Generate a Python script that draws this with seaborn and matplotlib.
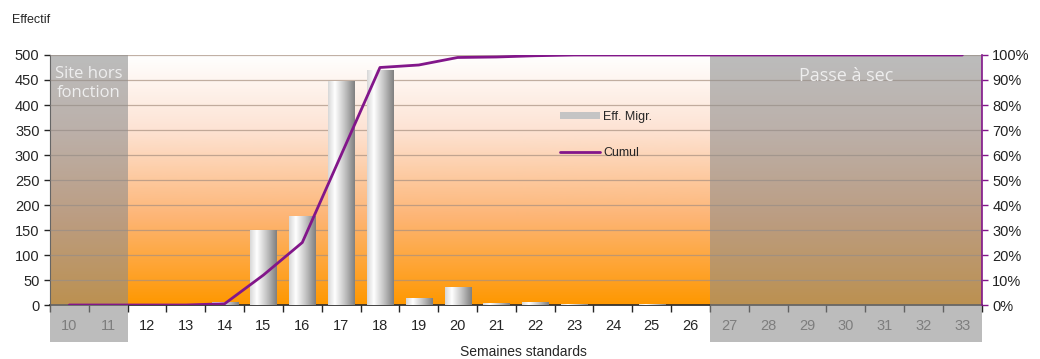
import numpy as np
import pandas as pd
import matplotlib.pyplot as plt
import seaborn as sns
from matplotlib.patches import Rectangle, Patch
from matplotlib.lines import Line2D
from matplotlib.colors import LinearSegmentedColormap
from matplotlib.ticker import PercentFormatter, FixedLocator


##################################################
# Data
##################################################

weeks = [str(w) for w in range(10, 34)]
eff_migr = [0, 0, 0, 0, 7, 150, 178, 448, 470, 15, 37, 5, 6, 2, 0, 2, 0,
            0, 0, 0, 0, 0, 0, 0]
cumul = [0.0, 0.0, 0.0, 0.0, 0.005, 0.12, 0.25, 0.60, 0.95, 0.96, 0.99, 0.992,
         0.997, 1.0, 1.0, 1.0, 1.0, 1.0, 1.0, 1.0, 1.0, 1.0, 1.0, 1.0]

closed_left = ["10", "11"]
closed_right = ["27", "28", "29", "30", "31", "32", "33"]

df = pd.DataFrame({"semaine": weeks, "effectif": eff_migr})


##################################################
# Figure
##################################################

sns.set_style("white")
plt.rcParams["font.family"] = ["Liberation Sans", "DejaVu Sans"]

fig = plt.figure(figsize=(10.4, 3.59), dpi=100)
ax = fig.add_axes([0.048, 0.1504, 0.896, 0.6964])

# background gradient white -> orange
bg = LinearSegmentedColormap.from_list(
    "bg", [(0.0, "#ff9800"), (0.35, "#fdb575"), (0.7, "#fde3d4"), (1.0, "#ffffff")])
grad = np.linspace(0, 1, 256).reshape(-1, 1)
ax.imshow(grad, cmap=bg, origin="lower", aspect="auto",
          extent=[-0.5, len(weeks) - 0.5, 0, 500], zorder=0)

# bars
sns.barplot(data=df, x="semaine", y="effectif", ax=ax, width=0.67,
            color="#cccccc", zorder=3, linewidth=0)

bar_cmap = LinearSegmentedColormap.from_list(
    "bar", [(0.0, "#d8d8d8"), (0.25, "#ffffff"), (0.6, "#c8c8c8"), (1.0, "#808080")])
hgrad = np.linspace(0, 1, 64).reshape(1, -1)
for p in ax.patches:
    if p.get_height() <= 0:
        continue
    p.set_facecolor("none")
    p.set_edgecolor("none")
    x0, w, h = p.get_x(), p.get_width(), p.get_height()
    im = ax.imshow(hgrad, cmap=bar_cmap, aspect="auto",
                   extent=[x0, x0 + w, 0, h], zorder=3)
    im.set_clip_path(p)

ax.set_xlim(-0.5, len(weeks) - 0.5)
ax.set_ylim(0, 500)
ax.set_yticks(range(0, 501, 50))
ax.yaxis.grid(True, color="#a89080", linewidth=0.9, alpha=0.7)
ax.set_axisbelow(False)
for gl in ax.get_ygridlines():
    gl.set_zorder(1)

ax.set_xlabel("")
ax.set_ylabel("")
ax.tick_params(axis="y", labelsize=10.5, length=4, width=1, direction="out", left=True)
ax.tick_params(axis="x", labelsize=10.5, length=0, pad=10)
ax.xaxis.set_minor_locator(FixedLocator(np.arange(-0.5, len(weeks), 1)))
ax.tick_params(axis="x", which="minor", length=5, width=1, direction="out", bottom=True)
for lbl in ax.get_xticklabels():
    if lbl.get_text() in closed_left + closed_right:
        lbl.set_color("#6a6a6a")

for s in ["top", "right"]:
    ax.spines[s].set_visible(False)
ax.spines["left"].set_color("#333333")
ax.spines["bottom"].set_color("#222222")
ax.spines["bottom"].set_linewidth(1.2)

# cumul on secondary axis
ax2 = ax.twinx()
sns.lineplot(x=np.arange(len(weeks)), y=cumul, ax=ax2, color="#82168a",
             linewidth=2, zorder=5)
ax2.set_ylim(0, 1)
ax2.set_yticks(np.arange(0, 1.01, 0.1))
ax2.yaxis.set_major_formatter(PercentFormatter(1.0, decimals=0))
ax2.tick_params(axis="y", labelsize=10.5, length=4, width=1, colors="#222222")
ax2.tick_params(axis="y", color="#82168a")
for s in ["top", "left", "bottom"]:
    ax2.spines[s].set_visible(False)
ax2.spines["right"].set_color("#82168a")
ax2.spines["right"].set_linewidth(1.2)
ax2.set_ylabel("")

# grey "closed" zones, extending over the tick labels
i0 = weeks.index(closed_left[0])
i1 = weeks.index(closed_right[0])
for start, n in [(i0, len(closed_left)), (i1, len(closed_right))]:
    ax.add_patch(Rectangle((start - 0.5, -74), n, 574, facecolor="#8c8c8c",
                           alpha=0.58, edgecolor="none", zorder=6, clip_on=False))

ax.text(i0 + 0.5, 478, "Site hors\nfonction", ha="center", va="top",
        color="#eeeeee", fontsize=12, family=["Open Sans", "DejaVu Sans"],
        linespacing=1.25, zorder=7)
ax.text(i1 + 3.0, 458, "Passe à sec", ha="center", va="center",
        color="#eeeeee", fontsize=13, family=["Open Sans", "DejaVu Sans"],
        zorder=7)

fig.text(0.012, 0.945, "Effectif", fontsize=9, ha="left", va="center")
fig.text(0.503, 0.02, "Semaines standards", fontsize=10, ha="center", va="center")

# legend
handles = [Patch(facecolor="#c4c4c4", edgecolor="none"),
           Line2D([], [], color="#82168a", linewidth=2)]
leg = ax2.legend(handles, ["Eff. Migr.", "Cumul"], loc="upper left",
                 bbox_to_anchor=(0.535, 0.82), frameon=False, fontsize=9,
                 labelspacing=1.9, handlelength=3.2, handletextpad=0.3,
                 handleheight=0.5)

fig.savefig("out.png", dpi=100)
plt.close(fig)
print("Saved: out.png")
